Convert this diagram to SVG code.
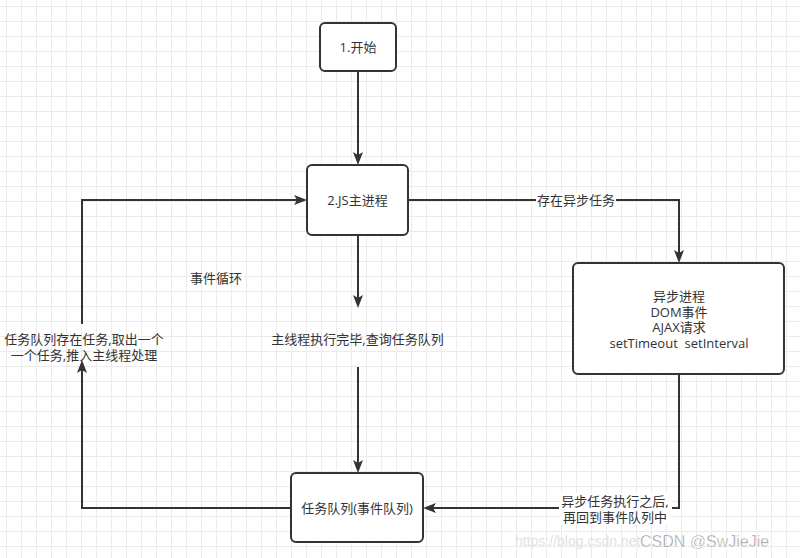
<svg xmlns="http://www.w3.org/2000/svg" width="800" height="558" viewBox="0 0 800 558">
<style>
.box{fill:#fff;stroke:#333;stroke-width:2}
.edge{fill:none;stroke:#333;stroke-width:2}
.t{font-family:"Open Sans","Noto Sans CJK SC",sans-serif;font-size:13px;fill:#333;text-anchor:middle;dominant-baseline:central}
.lbg{fill:#fff}
</style>
<defs>
<pattern id="grid" patternUnits="userSpaceOnUse" x="6" y="6" width="15" height="15">
<path d="M15 0.5H0.5V15" fill="none" stroke="#ebebeb" stroke-width="1"/>
</pattern>
<marker id="arr" markerUnits="userSpaceOnUse" viewBox="0 0 13 10" refX="10" refY="5" markerWidth="13" markerHeight="10" orient="auto">
<path d="M0,0 L13,5 L0,10 L3,5 z" fill="#333"/>
</marker>
</defs>
<rect width="800" height="558" fill="#fff"/>
<rect width="800" height="558" fill="url(#grid)"/>

<g id="connectors">
<path class="edge" d="M358,72 V162" marker-end="url(#arr)"/>
<path class="edge" d="M408,200 H679 V260" marker-end="url(#arr)"/>
<path class="edge" d="M358,235 V305" marker-end="url(#arr)"/>
<path class="edge" d="M358,367 V470" marker-end="url(#arr)"/>
<path class="edge" d="M679,374 V508 H426" marker-end="url(#arr)"/>
<path class="edge" d="M291,508 H82 V363" marker-end="url(#arr)"/>
<path class="edge" d="M82,324 V200 H304" marker-end="url(#arr)"/>
<g id="label-async">
<rect class="lbg" x="536" y="193" width="80" height="14"/>
<text class="t" x="576" y="200">存在异步任务</text>
</g>
<g id="label-back">
<rect class="lbg" x="559" y="493" width="113" height="32"/>
<text class="t" x="615" y="501">异步任务执行之后,</text>
<text class="t" x="615" y="517">再回到事件队列中</text>
</g>
</g>

<g id="node-start">
<rect class="box" x="320" y="23" width="76" height="48" rx="5"/>
<text class="t" x="358" y="47">1.开始</text>
</g>
<g id="node-main">
<rect class="box" x="307" y="165" width="101" height="70" rx="5"/>
<text class="t" x="357.5" y="200">2.JS主进程</text>
</g>
<g id="node-async">
<rect class="box" x="573" y="263" width="211" height="111" rx="5"/>
<text class="t" x="679" y="296">异步进程</text>
<text class="t" x="679" y="312">DOM事件</text>
<text class="t" x="679" y="327">AJAX请求</text>
<text class="t" x="679" y="343" xml:space="preserve">setTimeout  setInterval</text>
</g>
<g id="node-queue">
<rect class="box" x="291" y="473" width="132" height="69" rx="5"/>
<text class="t" x="357" y="508">任务队列(事件队列)</text>
</g>
<g id="node-loop">
<text class="t" x="216" y="278">事件循环</text>
</g>
<g id="node-check">
<text class="t" x="357.5" y="339">主线程执行完毕,查询任务队列</text>
</g>
<g id="node-take">
<text class="t" x="84" y="339">任务队列存在任务,取出一个</text>
<text class="t" x="84" y="355">一个任务,推入主线程处理</text>
</g>
<g id="watermark">
<text x="515" y="546" font-family="Liberation Sans, sans-serif" font-size="14" fill="#e2e2e2">https://blog.csdn.net</text>
<text x="640" y="547" font-family="Liberation Sans, sans-serif" font-size="16" fill="#8c8c8c" stroke="#fff" stroke-width="0.5">CSDN @SwJieJie</text>
</g>
</svg>
